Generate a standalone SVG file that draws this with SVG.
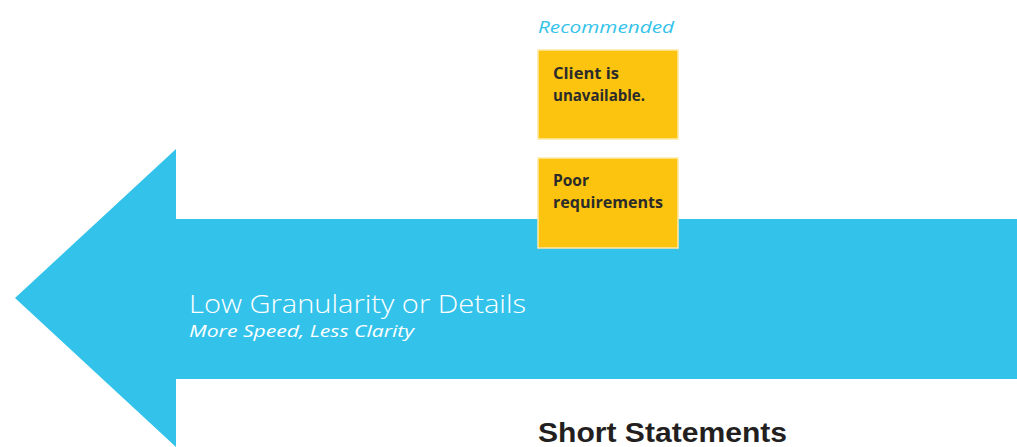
<svg xmlns="http://www.w3.org/2000/svg" width="1017" height="447" viewBox="0 0 1017 447">
<style>
.note{fill:#FDC40F;stroke:#FFE9A8;stroke-width:1.5}
.nt{font-family:"Open Sans","Noto Sans",sans-serif;font-weight:bold;font-size:16px;fill:#2B2B2B}
</style>
<rect width="1017" height="447" fill="#FFFFFF"/>
<g id="arrow">
<polygon points="15,298 176,149 176,219 1017,219 1017,379 176,379 176,447" fill="#33C3EA"/>
<text x="189" y="313" font-family="'Open Sans','Noto Sans',sans-serif" font-weight="300" font-size="25" fill="#FFFFFF" textLength="337" lengthAdjust="spacingAndGlyphs">Low Granularity or Details</text>
<text x="189" y="337" font-family="'Open Sans','Noto Sans',sans-serif" font-style="italic" font-size="17" fill="#FFFFFF" textLength="225" lengthAdjust="spacingAndGlyphs">More Speed, Less Clarity</text>
</g>
<text x="538" y="33" font-family="'Open Sans','Noto Sans',sans-serif" font-style="italic" font-size="17" fill="#33C3EA" textLength="136" lengthAdjust="spacingAndGlyphs">Recommended</text>
<g id="note1">
<rect class="note" x="538" y="50" width="140" height="89"/>
<text class="nt" x="553" y="79" textLength="66" lengthAdjust="spacingAndGlyphs">Client is</text>
<text class="nt" x="553" y="101" textLength="92" lengthAdjust="spacingAndGlyphs">unavailable.</text>
</g>
<g id="note2">
<rect class="note" x="538" y="158" width="140" height="90"/>
<text class="nt" x="553" y="186" textLength="36" lengthAdjust="spacingAndGlyphs">Poor</text>
<text class="nt" x="553" y="208" textLength="110" lengthAdjust="spacingAndGlyphs">requirements</text>
</g>
<text x="538" y="442" font-family="'Liberation Sans',Arial,sans-serif" font-weight="bold" font-size="27" fill="#231F20" textLength="249" lengthAdjust="spacingAndGlyphs">Short Statements</text>
</svg>
